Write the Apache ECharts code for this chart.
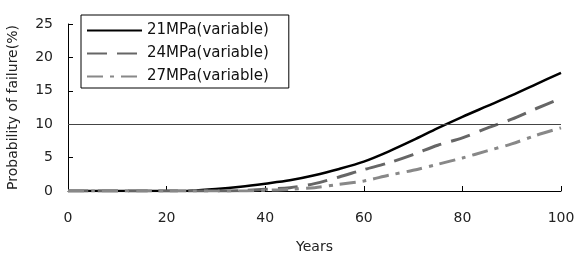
<!DOCTYPE html>
<html>
<head>
<meta charset="utf-8">
<script src="https://cdn.jsdelivr.net/npm/echarts@6/dist/echarts.min.js"></script>
<style>
html, body { margin: 0; padding: 0; background: #fff; }
#chart { width: 576px; height: 255px; }
</style>
</head>
<body>
<div id="chart"></div>
<script>
const years = [0, 5, 10, 15, 20, 25, 30, 35, 40, 45, 50, 55, 60, 65, 70, 75, 80, 85, 90, 95, 100];
const p21 = [0, 0, 0, 0, 0, 0.05, 0.3, 0.65, 1.1, 1.6, 2.35, 3.3, 4.4, 5.9, 7.6, 9.4, 11.1, 12.7, 14.3, 16.0, 17.7];
const p24 = [0, 0, 0, 0, 0, 0, 0, 0.05, 0.25, 0.5, 1.1, 2.1, 3.2, 4.2, 5.45, 6.85, 7.95, 9.4, 10.75, 12.35, 13.85];
const p27 = [0, 0, 0, 0, 0, 0, 0, 0, 0.1, 0.25, 0.5, 1.0, 1.5, 2.35, 3.1, 4.0, 4.95, 6.0, 7.05, 8.35, 9.45];
const seriesNames = ['21MPa(variable)', '24MPa(variable)', '27MPa(variable)'];
const threshold = 10;

const pairs = (ys) => years.map((x, i) => [x, ys[i]]);

const init = () => {
    const myChart = echarts.init(document.getElementById('chart'));
    const font = 'DejaVu Sans, sans-serif';
    let option = {
        animation: false,
        grid: { left: 68, right: 15, top: 24, bottom: 64, containLabel: false, outerBoundsMode: 'none' },
        legend: {
            orient: 'vertical',
            left: 81,
            top: 15,
            itemWidth: 55,
            itemHeight: 15,
            itemGap: 8,
            padding: [8, 20, 4, 5],
            borderColor: '#000',
            borderWidth: 1,
            itemStyle: { opacity: 0 },
            textStyle: { fontFamily: font, fontSize: 15, color: '#111' },
            data: seriesNames
        },
        xAxis: {
            type: 'value',
            min: 0, max: 100, interval: 20,
            name: 'Years',
            nameLocation: 'middle',
            nameGap: 49,
            nameTextStyle: { fontFamily: font, fontSize: 14, color: '#222' },
            axisLine: { lineStyle: { color: '#000' } },
            axisTick: { inside: true, length: 5, lineStyle: { color: '#000' } },
            axisLabel: { fontFamily: font, fontSize: 14, color: '#222', margin: 20 },
            splitLine: { show: false }
        },
        yAxis: {
            type: 'value',
            min: 0, max: 25, interval: 5,
            name: 'Probability of failure(%)',
            nameLocation: 'middle',
            nameGap: 48,
            nameTextStyle: { fontFamily: font, fontSize: 14, color: '#222' },
            axisLine: { show: true, lineStyle: { color: '#000' } },
            axisTick: { show: true, inside: true, length: 5, lineStyle: { color: '#000' } },
            axisLabel: { fontFamily: font, fontSize: 14, color: '#222', margin: 15 },
            splitLine: { show: false }
        },
        series: [
            {
                name: seriesNames[0],
                type: 'line',
                data: pairs(p21),
                smooth: 0.3,
                symbol: 'none',
                lineStyle: { color: '#000', width: 2.5, type: 'solid' },
                itemStyle: { color: '#000' },
                markLine: {
                    silent: true,
                    symbol: 'none',
                    label: { show: false },
                    lineStyle: { color: '#444', width: 1, type: 'solid' },
                    data: [{ yAxis: threshold }]
                }
            },
            {
                name: seriesNames[1],
                type: 'line',
                data: pairs(p24),
                smooth: 0.3,
                symbol: 'none',
                lineStyle: { color: '#666', width: 3, type: [20, 10] },
                itemStyle: { color: '#666' }
            },
            {
                name: seriesNames[2],
                type: 'line',
                data: pairs(p27),
                smooth: 0.3,
                symbol: 'none',
                lineStyle: { color: '#888', width: 3, type: [16, 7, 4, 7] },
                itemStyle: { color: '#888' }
            }
        ]
    };
    myChart.setOption(option);
    window.addEventListener('resize', () => {
        myChart.resize();
    });
};
init();
</script>
</body>
</html>
